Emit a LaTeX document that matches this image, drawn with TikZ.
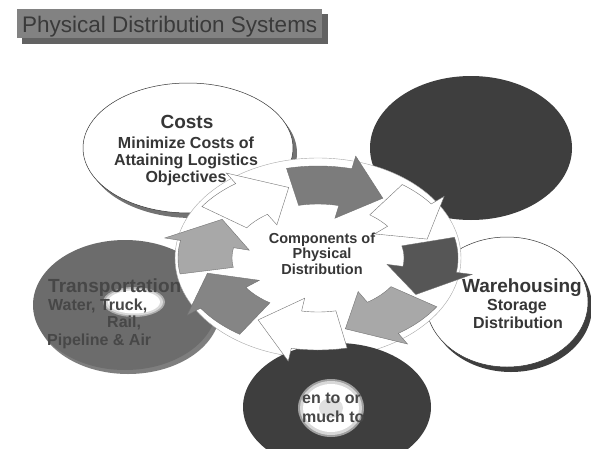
\documentclass[tikz,border=0pt]{standalone}
\usepackage{fontspec}
\setmainfont{Liberation Sans}
\definecolor{titlebox}{HTML}{828282}
\definecolor{titleshadow}{HTML}{626262}
\definecolor{titletext}{HTML}{3A3A3A}
\definecolor{darkell}{HTML}{3E3E3E}
\definecolor{transgrey}{HTML}{6C6C6C}
\definecolor{transshadow}{HTML}{7E7E7E}
\definecolor{costshadow}{HTML}{727272}
\definecolor{txtgrey}{HTML}{363636}
\definecolor{arrmid}{HTML}{7C7C7C}
\definecolor{arrmidb}{HTML}{858585}
\definecolor{arrlight}{HTML}{A8A8A8}
\definecolor{arrdark}{HTML}{565656}
\tikzset{
  ringarrow/.style={draw=black!55, line width=0.4pt, line join=miter},
  lbl/.style={font=\bfseries, text=txtgrey, inner sep=0pt, anchor=base},
  thinout/.style={draw=black!80, line width=0.5pt},
}
\newcommand\ringarr[3]{%
  \pgfmathsetmacro\rah{#2-21}%
  \filldraw[ringarrow, fill=#3]
    plot[domain=#1:\rah, samples=16] ({318+140*cos(\x)},{258+92*sin(\x)})
    -- ({318+156*cos(\rah)},{258+105*sin(\rah)})
    -- ({318+113*cos(#2)},{258+73*sin(#2)})
    -- ({318+70*cos(\rah)},{258+41*sin(\rah)})
    -- plot[domain=\rah:#1, samples=16] ({318+86*cos(\x)},{258+54*sin(\x)})
    -- cycle;}
\begin{document}
\begin{tikzpicture}[x=1pt,y=-1pt]
\useasboundingbox (0,0) rectangle (591,455);
% title
\fill[titleshadow] (22,14) rectangle (328,44);
\fill[titlebox] (17,9) rectangle (322,38);
\node[font=\fontsize{22.5}{26}\selectfont, text=titletext, inner sep=0pt, anchor=base west] (title) at (22,32) {Physical Distribution Systems};
% Costs ellipse
\fill[costshadow] (192,153) ellipse [x radius=105pt, y radius=65pt];
\filldraw[fill=white, thinout] (188,148) ellipse [x radius=105pt, y radius=65pt];
% top right dark ellipse
\fill[darkell] (471,148) ellipse [x radius=101pt, y radius=72pt];
% transportation
\fill[transshadow] (128,310) ellipse [x radius=92pt, y radius=64pt];
\fill[transgrey] (125,305) ellipse [x radius=92pt, y radius=65pt];
\fill[transgrey!55!white] (134,302) ellipse [x radius=31pt, y radius=15pt];
\fill[transgrey!25!white] (134,302) ellipse [x radius=29pt, y radius=13.5pt];
\fill[white] (134,302) ellipse [x radius=26pt, y radius=11.5pt];
% warehousing
\fill[darkell] (511,307) ellipse [x radius=81pt, y radius=65pt];
\filldraw[fill=white, thinout] (507,302) ellipse [x radius=81pt, y radius=65pt];
% white ring background
\filldraw[fill=white, draw=black!35, line width=0.4pt] (318,258) ellipse [x radius=143pt, y radius=100pt];
% bottom dark ellipse
\begin{scope}
  \clip (0,0) rectangle (591,448);
  \fill[darkell] (337,407) ellipse [x radius=94pt, y radius=64pt];
  \fill[darkell!50!white] (331,408) ellipse [x radius=33pt, y radius=29pt];
  \fill[darkell!20!white] (331,408) ellipse [x radius=31pt, y radius=27pt];
  \fill[white] (331,408) ellipse [x radius=28pt, y radius=24pt];
  \fill[black!12] (331,408) ellipse [x radius=12pt, y radius=10pt];
\end{scope}
% ring of arrows (clockwise)
\ringarr{78}{122}{white}
\ringarr{124}{168}{arrmidb}
\ringarr{170}{212}{arrlight}
\ringarr{214}{255}{white}
\ringarr{257}{305}{arrmid}
\ringarr{307}{345}{white}
\ringarr{347}{390}{arrdark}
\ringarr{392}{436}{arrlight}
% texts
\node[lbl, font=\fontsize{19}{22}\selectfont\bfseries] (costs) at (187,128) {Costs};
\node[lbl, font=\fontsize{16}{19}\selectfont\bfseries] (costs1) at (186,148) {Minimize Costs of};
\node[lbl, font=\fontsize{16}{19}\selectfont\bfseries] (costs2) at (186,165) {Attaining Logistics};
\node[lbl, font=\fontsize{16}{19}\selectfont\bfseries] (costs3) at (186,182) {Objectives};
\node[lbl, font=\fontsize{14.5}{16}\selectfont\bfseries] (comp1) at (322,243) {Components of};
\node[lbl, font=\fontsize{14.5}{16}\selectfont\bfseries] (comp2) at (322,258) {Physical};
\node[lbl, font=\fontsize{14.5}{16}\selectfont\bfseries] (comp3) at (322,274) {Distribution};
\node[lbl, anchor=base west, text=black!72, font=\fontsize{19}{22}\selectfont\bfseries] (trans) at (48,292) {Transportation};
\node[lbl, anchor=base west, text=black!72, font=\fontsize{16}{19}\selectfont\bfseries] (trans1) at (48,310) {Water, Truck,};
\node[lbl, anchor=base west, text=black!72, font=\fontsize{16}{19}\selectfont\bfseries] (trans2) at (107,327) {Rail,};
\node[lbl, anchor=base west, text=black!72, font=\fontsize{16}{19}\selectfont\bfseries] (trans3) at (47,345) {Pipeline \& Air};
\node[lbl, font=\fontsize{19}{22}\selectfont\bfseries] (ware) at (522,292) {Warehousing};
\node[lbl, font=\fontsize{16}{19}\selectfont\bfseries] (ware1) at (517,310) {Storage};
\node[lbl, font=\fontsize{16}{19}\selectfont\bfseries] (ware2) at (518,328) {Distribution};
\node[lbl, anchor=base west, text=black!72, font=\fontsize{16}{19}\selectfont\bfseries] (inv1) at (302,403) {en to or};
\node[lbl, anchor=base west, text=black!72, font=\fontsize{16}{19}\selectfont\bfseries] (inv2) at (302,422) {much to};
\end{tikzpicture}
\end{document}
